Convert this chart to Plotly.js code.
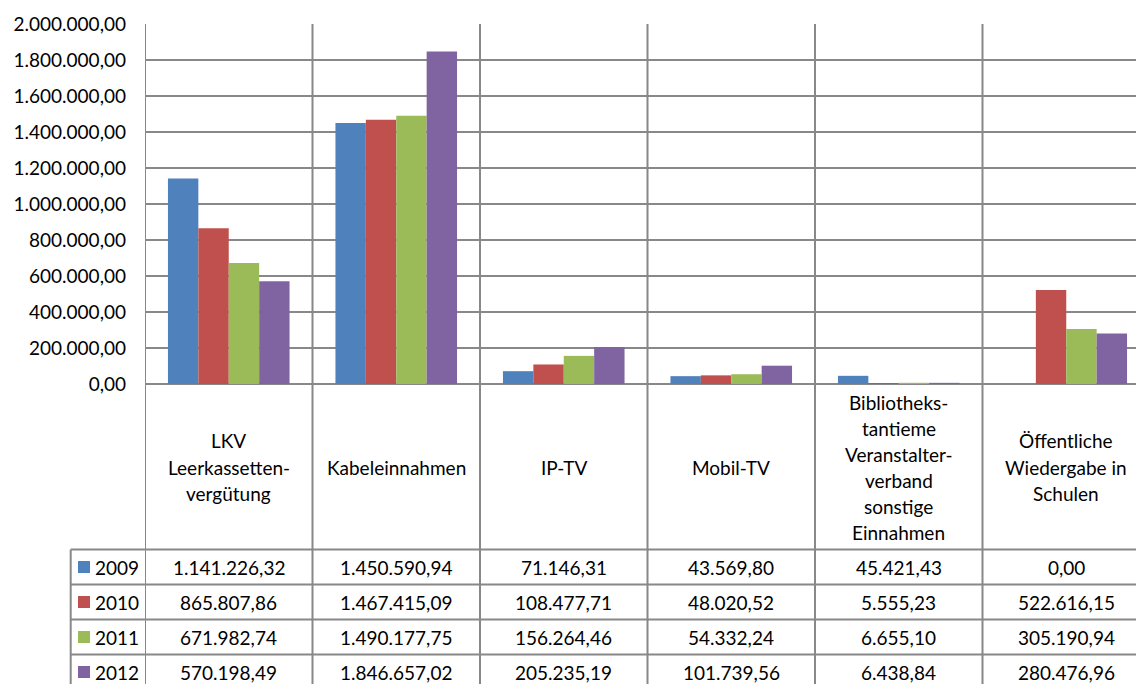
<!DOCTYPE html>
<html>
<head>
<meta charset="utf-8">
<script src="https://cdn.plot.ly/plotly-3.0.1.min.js"></script>
<style>
  html, body { margin: 0; padding: 0; background: #ffffff; }
  #chart { width: 1136px; height: 684px; }
</style>
</head>
<body>
<div id="chart"></div>
<script>
// Einnahmen je Bereich, 2009–2012 (EUR)
const categories = [
  'LKV Leerkassettenvergütung',
  'Kabeleinnahmen',
  'IP-TV',
  'Mobil-TV',
  'Bibliothekstantieme Veranstalterverband sonstige Einnahmen',
  'Öffentliche Wiedergabe in Schulen'
];
const categoryLines = [
  ['LKV', 'Leerkassetten-', 'vergütung'],
  ['Kabeleinnahmen'],
  ['IP-TV'],
  ['Mobil-TV'],
  ['Bibliotheks-', 'tantieme', 'Veranstalter-', 'verband', 'sonstige', 'Einnahmen'],
  ['Öffentliche', 'Wiedergabe in', 'Schulen']
];
const years = ['2009', '2010', '2011', '2012'];
const values2009 = [1141226.32, 1450590.94, 71146.31, 43569.80, 45421.43, 0.00];
const values2010 = [865807.86, 1467415.09, 108477.71, 48020.52, 5555.23, 522616.15];
const values2011 = [671982.74, 1490177.75, 156264.46, 54332.24, 6655.10, 305190.94];
const values2012 = [570198.49, 1846657.02, 205235.19, 101739.56, 6438.84, 280476.96];
const seriesValues = [values2009, values2010, values2011, values2012];
const colors = ['#4F81BD', '#C0504D', '#9BBB59', '#8064A2'];

// Layout geometry (pixels)
const W = 1136, H = 684;
const M = { l: 145, r: 0, t: 24, b: 300 };
const plotH = H - M.t - M.b;           // 360
const plotW = W - M.l - M.r;           // 991
const catPx = 167.5;                   // width of one category slot
const xEnd = -0.5 + plotW / catPx;
const FONT = 'Lato, "Liberation Sans", sans-serif';
const FS = 19;
const gridColor = '#888888';

const yPaper = py => (M.t + plotH - py) / plotH;
const xPaper = px => (px - M.l) / plotW;

// German number format: 1.234.567,89
function fmt(v) {
  const parts = v.toFixed(2).split('.');
  const intPart = parts[0].replace(/\B(?=(\d{3})+(?!\d))/g, '.');
  return intPart + ',' + parts[1];
}

const xIdx = categories.map((_, i) => i);

const traces = years.map((yr, s) => ({
  type: 'bar',
  name: yr,
  x: xIdx,
  y: seriesValues[s],
  marker: { color: colors[s], line: { width: 0 } },
  hoverinfo: 'skip'
}));

const shapes = [];
const annotations = [];
const tableTop = 549.5;
const rowH = 35;
const tableBottom = 700;

// vertical category separators, running from the plot top through the table
for (let i = 0; i <= categories.length; i++) {
  shapes.push({
    type: 'line', xref: 'x', yref: 'paper',
    x0: i - 0.5, x1: i - 0.5, y0: 1, y1: yPaper(tableBottom),
    line: { color: gridColor, width: 2 }
  });
}
// left edge of the legend column
shapes.push({
  type: 'line', xref: 'paper', yref: 'paper',
  x0: xPaper(70.7), x1: xPaper(70.7), y0: yPaper(tableTop), y1: yPaper(tableBottom),
  line: { color: gridColor, width: 2 }
});
// horizontal table rules
for (let r = 0; r < years.length; r++) {
  const py = tableTop + r * rowH;
  shapes.push({
    type: 'line', xref: 'paper', yref: 'paper',
    x0: xPaper(70.7), x1: 1, y0: yPaper(py), y1: yPaper(py),
    line: { color: gridColor, width: 2 }
  });
}

// category labels
categoryLines.forEach((lines, i) => {
  const n = lines.length;
  lines.forEach((txt, k) => {
    annotations.push({
      xref: 'x', yref: 'paper', x: i, y: yPaper(467 + (k - (n - 1) / 2) * 26),
      text: txt, showarrow: false, xanchor: 'center', yanchor: 'middle',
      font: { family: FONT, size: FS, color: '#000000' }
    });
  });
});

// data table rows: legend key, year, values
years.forEach((yr, s) => {
  const cy = tableTop + s * rowH + rowH / 2;
  shapes.push({
    type: 'rect', xref: 'paper', yref: 'paper',
    x0: xPaper(78), x1: xPaper(90), y0: yPaper(cy - 6), y1: yPaper(cy + 6),
    fillcolor: colors[s], line: { width: 0 }
  });
  annotations.push({
    xref: 'paper', yref: 'paper', x: xPaper(93), y: yPaper(cy),
    text: yr, showarrow: false, xanchor: 'left', yanchor: 'middle',
    font: { family: FONT, size: FS, color: '#000000' }
  });
  seriesValues[s].forEach((v, i) => {
    annotations.push({
      xref: 'x', yref: 'paper', x: i, y: yPaper(cy),
      text: fmt(v), showarrow: false, xanchor: 'center', yanchor: 'middle',
      font: { family: FONT, size: FS, color: '#000000' }
    });
  });
});

const layout = {
  width: W, height: H,
  margin: M,
  paper_bgcolor: '#ffffff',
  plot_bgcolor: '#ffffff',
  separators: ',.',
  barmode: 'group',
  bargap: 0.274,
  bargroupgap: 0,
  showlegend: false,
  font: { family: FONT, size: FS, color: '#000000' },
  xaxis: {
    range: [-0.5, xEnd],
    showticklabels: false,
    showgrid: false,
    zeroline: false,
    ticks: '',
    fixedrange: true
  },
  yaxis: {
    range: [0, 2000000],
    tickvals: [0, 200000, 400000, 600000, 800000, 1000000, 1200000, 1400000, 1600000, 1800000, 2000000],
    tickformat: ',.2f',
    showgrid: true,
    gridcolor: gridColor,
    gridwidth: 2,
    zeroline: true,
    zerolinecolor: gridColor,
    zerolinewidth: 2,
    ticks: '',
    ticklabelstandoff: 18,
    tickfont: { family: FONT, size: FS, color: '#000000' },
    fixedrange: true
  },
  shapes: shapes,
  annotations: annotations
};

Plotly.newPlot('chart', traces, layout, { displayModeBar: false, staticPlot: true });
</script>
</body>
</html>
